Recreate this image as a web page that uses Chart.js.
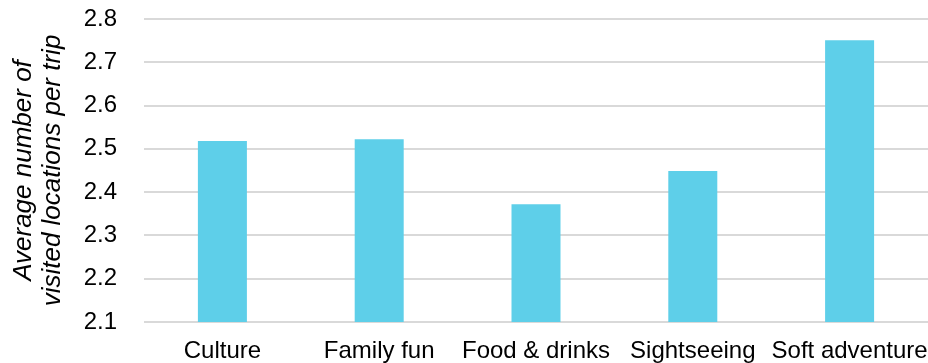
<!DOCTYPE html>
<html>
<head>
<meta charset="utf-8">
<script src="https://cdn.jsdelivr.net/npm/chart.js@4/dist/chart.umd.min.js"></script>
<style>
  html, body { margin: 0; padding: 0; background: #fff; }
  #wrap { width: 928px; height: 363px; position: relative; }
</style>
</head>
<body>
<div id="wrap"><canvas id="chart"></canvas></div>
<script>
// Trip categories and average number of visited locations per trip
const categories = ['Culture', 'Family fun', 'Food & drinks', 'Sightseeing', 'Soft adventure'];
const avgLocations = [2.518, 2.522, 2.372, 2.449, 2.751];
const yAxisTitle = ['Average number of', 'visited locations per trip'];
const yMin = 2.1;
const yMax = 2.8;
const yStep = 0.1;

const FONT = '"Liberation Sans", Arial, Helvetica, sans-serif';

new Chart(document.getElementById('chart'), {
  type: 'bar',
  data: {
    labels: categories,
    datasets: [{
      data: avgLocations,
      backgroundColor: '#5ecfe9',
      borderWidth: 0,
      barPercentage: 0.3125,
      categoryPercentage: 1.0
    }]
  },
  options: {
    responsive: true,
    maintainAspectRatio: false,
    animation: false,
    layout: { padding: { top: 19, right: 0, bottom: 0, left: 0 } },
    plugins: {
      legend: { display: false },
      tooltip: { enabled: false }
    },
    scales: {
      x: {
        grid: { display: false },
        border: { display: false },
        ticks: {
          color: '#000',
          font: { family: FONT, size: 24 },
          padding: 7,
          maxRotation: 0,
          autoSkip: false
        },
        afterFit: (scale) => {
          scale.height = 41;
          scale.paddingLeft = 0;
          scale.paddingRight = 0;
        }
      },
      y: {
        min: yMin,
        max: yMax,
        border: { display: false },
        grid: {
          color: '#d9d9d9',
          lineWidth: 2,
          drawTicks: false
        },
        ticks: {
          stepSize: yStep,
          color: '#000',
          font: { family: FONT, size: 24 },
          padding: 27,
          callback: (v) => Number(v).toFixed(1)
        },
        title: {
          display: true,
          text: yAxisTitle,
          color: '#000',
          font: { family: FONT, size: 26, style: 'italic', lineHeight: '29px' },
          padding: { top: 9, bottom: 0 }
        },
        afterFit: (scale) => {
          scale.width = 144;
          scale.paddingTop = 0;
          scale.paddingBottom = 0;
        }
      }
    }
  }
});
</script>
</body>
</html>
